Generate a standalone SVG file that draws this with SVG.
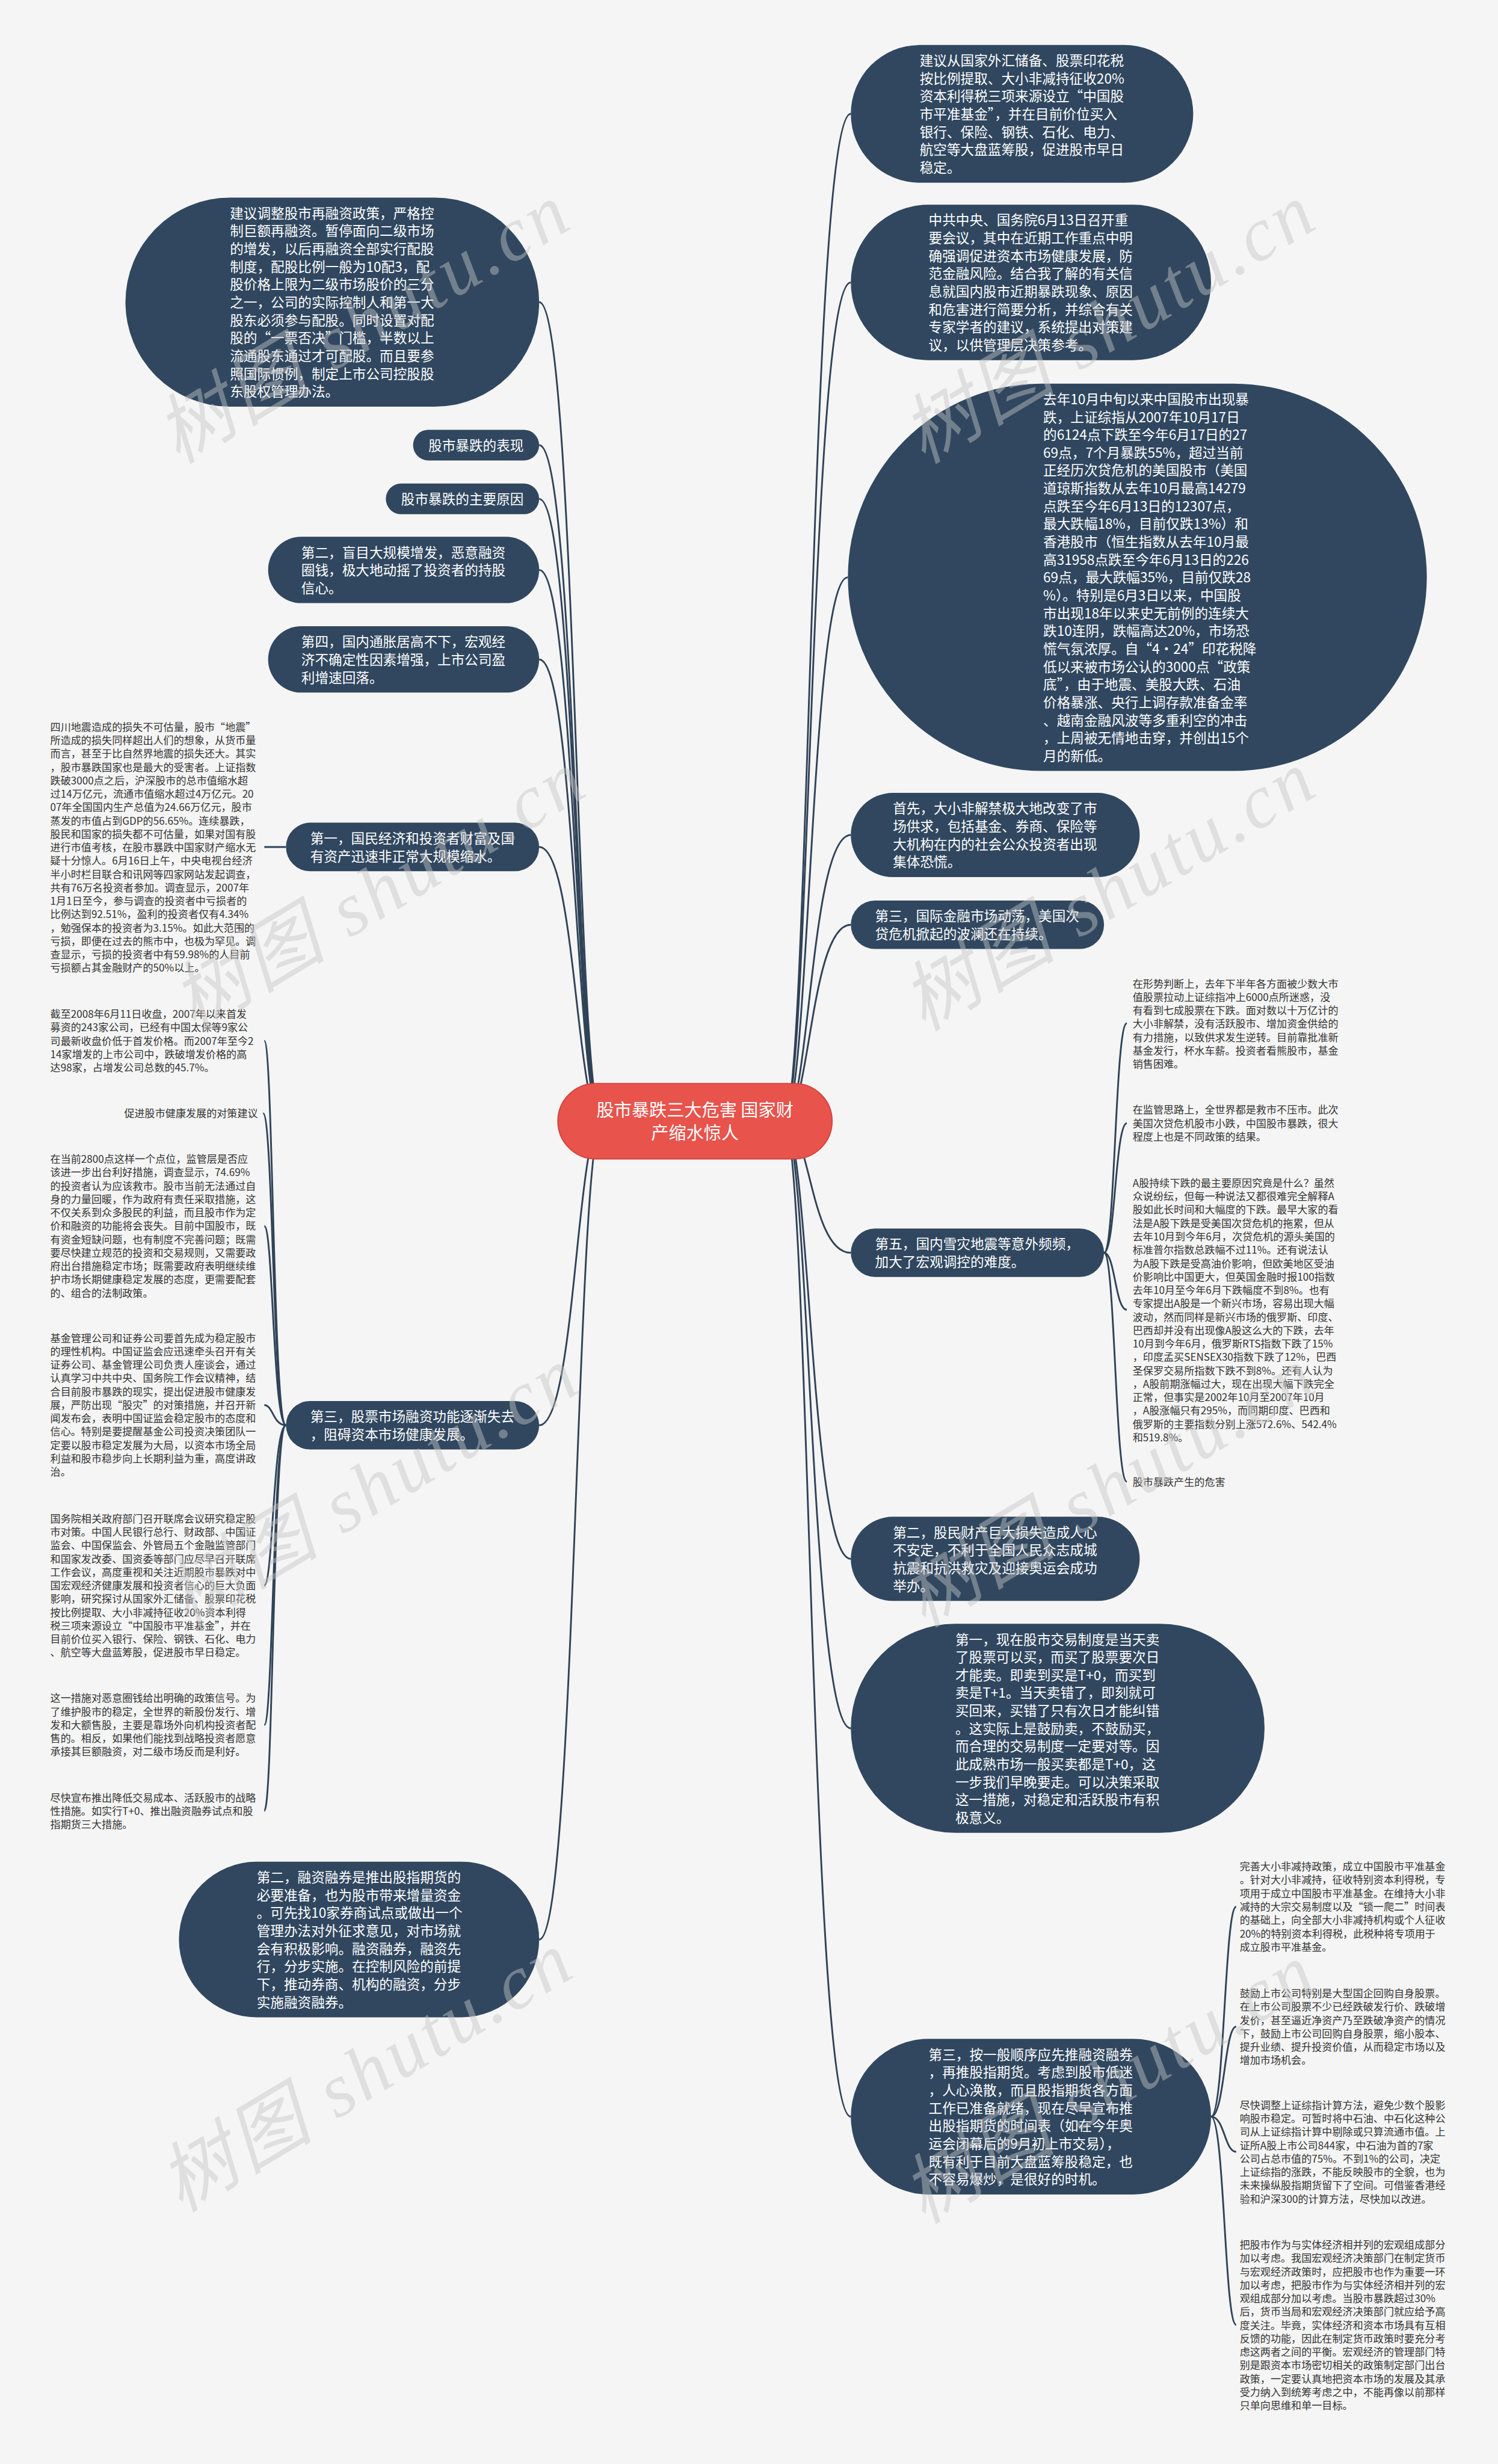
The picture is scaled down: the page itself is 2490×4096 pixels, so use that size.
<svg xmlns="http://www.w3.org/2000/svg" width="2490" height="4096" viewBox="0 0 2490 4096">
<style>
.bg{fill:#f5f5f5}
.nd{fill:#30475f}
.ctr{fill:#e8534c;stroke:#d4443e;stroke-width:2}
.nt{fill:#ffffff;font-family:"Noto Sans CJK SC","Noto Sans",sans-serif;font-size:23.3px}
.ct{fill:#ffffff;font-family:"Noto Sans CJK SC","Noto Sans",sans-serif;font-size:30px;text-anchor:middle}
.bt{fill:#333333;font-family:"Noto Sans CJK SC","Noto Sans",sans-serif;font-size:17.6px}
.cn path{fill:none;stroke:#2f4358;stroke-width:3}
.wm{fill:#c6c6c6;fill-opacity:0.45;font-family:"Liberation Serif","Noto Sans CJK SC",serif;font-style:italic;font-size:130px;letter-spacing:6px;text-anchor:middle}
</style>
<rect class="bg" x="0" y="0" width="2490" height="4096"/>
<g transform="scale(0.972)">
<g id="connectors" class="cn">
<path d="M1340,1917.5 C1385,1917.5 1385,194.75 1455,194.75"/>
<path d="M1340,1917.5 C1385,1917.5 1385,483 1455,483"/>
<path d="M1340,1917.5 C1385,1917.5 1385,987.25 1450,987.25"/>
<path d="M1340,1917.5 C1385,1917.5 1385,1428 1455,1428"/>
<path d="M1340,1917.5 C1385,1917.5 1385,1581.5 1455,1581.5"/>
<path d="M1340,1917.5 C1385,1917.5 1385,2142.5 1455,2142.5"/>
<path d="M1340,1917.5 C1385,1917.5 1385,2666 1455,2666"/>
<path d="M1340,1917.5 C1385,1917.5 1385,2955.75 1455,2955.75"/>
<path d="M1340,1917.5 C1385,1917.5 1385,3620 1455,3620"/>
<path d="M1030,1917.5 C985,1917.5 985,516.75 922,516.75"/>
<path d="M1030,1917.5 C985,1917.5 985,761.25 922,761.25"/>
<path d="M1030,1917.5 C985,1917.5 985,853.25 922,853.25"/>
<path d="M1030,1917.5 C985,1917.5 985,974.75 922,974.75"/>
<path d="M1030,1917.5 C985,1917.5 985,1127.75 922,1127.75"/>
<path d="M1030,1917.5 C985,1917.5 985,1448.5 922,1448.5"/>
<path d="M1030,1917.5 C985,1917.5 985,2437.5 922,2437.5"/>
<path d="M1030,1917.5 C985,1917.5 985,3317 922,3317"/>
<path d="M489,1448.5 L452,1448.5"/>
<path d="M489,2437.5 C467,2437.5 467,1780 452,1780"/>
<path d="M489,2437.5 C467,2437.5 467,1904 450,1904"/>
<path d="M489,2437.5 C467,2437.5 467,2097 452,2097"/>
<path d="M489,2437.5 C467,2437.5 467,2403 452,2403"/>
<path d="M489,2437.5 C467,2437.5 467,2711.5 452,2711.5"/>
<path d="M489,2437.5 C467,2437.5 467,2950 452,2950"/>
<path d="M489,2437.5 C467,2437.5 467,3097 452,3097"/>
<path d="M1888,2142.5 C1907,2142.5 1907,1750 1927,1750"/>
<path d="M1888,2142.5 C1907,2142.5 1907,1921 1927,1921"/>
<path d="M1888,2142.5 C1907,2142.5 1907,2240 1927,2240"/>
<path d="M1888,2142.5 C1907,2142.5 1907,2534 1927,2534"/>
<path d="M2071,3620 C2094,3620 2094,3261 2114,3261"/>
<path d="M2071,3620 C2094,3620 2094,3466 2114,3466"/>
<path d="M2071,3620 C2094,3620 2094,3680 2114,3680"/>
<path d="M2071,3620 C2094,3620 2094,3976 2114,3976"/>
</g>

<g id="center">
<rect class="ctr" x="954" y="1853" width="469" height="129" rx="64.5"/>
<text class="ct" x="1188.5" y="1909"><tspan x="1188.5">股市暴跌三大危害 国家财</tspan><tspan x="1188.5" dy="40">产缩水惊人</tspan></text>
</g>

<g id="r1">
<rect class="nd" x="1455" y="77" width="585.5" height="235.5" rx="117.75"/>
<text class="nt" y="112.25"><tspan x="1572.75">建议从国家外汇储备、股票印花税</tspan><tspan x="1572.75" dy="30.5">按比例提取、大小非减持征收20%</tspan><tspan x="1572.75" dy="30.5">资本利得税三项来源设立“中国股</tspan><tspan x="1572.75" dy="30.5">市平准基金”，并在目前价位买入</tspan><tspan x="1572.75" dy="30.5">银行、保险、钢铁、石化、电力、</tspan><tspan x="1572.75" dy="30.5">航空等大盘蓝筹股，促进股市早日</tspan><tspan x="1572.75" dy="30.5">稳定。</tspan></text>
</g>

<g id="r2">
<rect class="nd" x="1455" y="350" width="616" height="266" rx="133"/>
<text class="nt" y="385.25"><tspan x="1588">中共中央、国务院6月13日召开重</tspan><tspan x="1588" dy="30.5">要会议，其中在近期工作重点中明</tspan><tspan x="1588" dy="30.5">确强调促进资本市场健康发展，防</tspan><tspan x="1588" dy="30.5">范金融风险。结合我了解的有关信</tspan><tspan x="1588" dy="30.5">息就国内股市近期暴跌现象、原因</tspan><tspan x="1588" dy="30.5">和危害进行简要分析，并综合有关</tspan><tspan x="1588" dy="30.5">专家学者的建议，系统提出对策建</tspan><tspan x="1588" dy="30.5">议，以供管理层决策参考。</tspan></text>
</g>

<g id="r3">
<rect class="nd" x="1450" y="656" width="990" height="662.5" rx="331.25"/>
<text class="nt" y="691.25"><tspan x="1784">去年10月中旬以来中国股市出现暴</tspan><tspan x="1784" dy="30.5">跌，上证综指从2007年10月17日</tspan><tspan x="1784" dy="30.5">的6124点下跌至今年6月17日的27</tspan><tspan x="1784" dy="30.5">69点，7个月暴跌55%，超过当前</tspan><tspan x="1784" dy="30.5">正经历次贷危机的美国股市（美国</tspan><tspan x="1784" dy="30.5">道琼斯指数从去年10月最高14279</tspan><tspan x="1784" dy="30.5">点跌至今年6月13日的12307点，</tspan><tspan x="1784" dy="30.5">最大跌幅18%，目前仅跌13%）和</tspan><tspan x="1784" dy="30.5">香港股市（恒生指数从去年10月最</tspan><tspan x="1784" dy="30.5">高31958点跌至今年6月13日的226</tspan><tspan x="1784" dy="30.5">69点，最大跌幅35%，目前仅跌28</tspan><tspan x="1784" dy="30.5">%）。特别是6月3日以来，中国股</tspan><tspan x="1784" dy="30.5">市出现18年以来史无前例的连续大</tspan><tspan x="1784" dy="30.5">跌10连阴，跌幅高达20%，市场恐</tspan><tspan x="1784" dy="30.5">慌气氛浓厚。自“4·24”印花税降</tspan><tspan x="1784" dy="30.5">低以来被市场公认的3000点“政策</tspan><tspan x="1784" dy="30.5">底”，由于地震、美股大跌、石油</tspan><tspan x="1784" dy="30.5">价格暴涨、央行上调存款准备金率</tspan><tspan x="1784" dy="30.5">、越南金融风波等多重利空的冲击</tspan><tspan x="1784" dy="30.5">，上周被无情地击穿，并创出15个</tspan><tspan x="1784" dy="30.5">月的新低。</tspan></text>
</g>

<g id="r4">
<rect class="nd" x="1455" y="1356" width="494" height="144" rx="72"/>
<text class="nt" y="1391.25"><tspan x="1527">首先，大小非解禁极大地改变了市</tspan><tspan x="1527" dy="30.5">场供求，包括基金、券商、保险等</tspan><tspan x="1527" dy="30.5">大机构在内的社会公众投资者出现</tspan><tspan x="1527" dy="30.5">集体恐慌。</tspan></text>
</g>

<g id="r5">
<rect class="nd" x="1455" y="1540" width="433" height="83" rx="41.5"/>
<text class="nt" y="1575.25"><tspan x="1496.5">第三，国际金融市场动荡，美国次</tspan><tspan x="1496.5" dy="30.5">贷危机掀起的波澜还在持续。</tspan></text>
</g>

<g id="r6">
<rect class="nd" x="1455" y="2101" width="433" height="83" rx="41.5"/>
<text class="nt" y="2136.25"><tspan x="1496.5">第五，国内雪灾地震等意外频频，</tspan><tspan x="1496.5" dy="30.5">加大了宏观调控的难度。</tspan></text>
</g>

<g id="r7">
<rect class="nd" x="1455" y="2594" width="494" height="144" rx="72"/>
<text class="nt" y="2629.25"><tspan x="1527">第二，股民财产巨大损失造成人心</tspan><tspan x="1527" dy="30.5">不安定，不利于全国人民众志成城</tspan><tspan x="1527" dy="30.5">抗震和抗洪救灾及迎接奥运会成功</tspan><tspan x="1527" dy="30.5">举办。</tspan></text>
</g>

<g id="r8">
<rect class="nd" x="1455" y="2777" width="707.5" height="357.5" rx="178.75"/>
<text class="nt" y="2812.25"><tspan x="1633.75">第一，现在股市交易制度是当天卖</tspan><tspan x="1633.75" dy="30.5">了股票可以买，而买了股票要次日</tspan><tspan x="1633.75" dy="30.5">才能卖。即卖到买是T+0，而买到</tspan><tspan x="1633.75" dy="30.5">卖是T+1。当天卖错了，即刻就可</tspan><tspan x="1633.75" dy="30.5">买回来，买错了只有次日才能纠错</tspan><tspan x="1633.75" dy="30.5">。这实际上是鼓励卖，不鼓励买，</tspan><tspan x="1633.75" dy="30.5">而合理的交易制度一定要对等。因</tspan><tspan x="1633.75" dy="30.5">此成熟市场一般买卖都是T+0，这</tspan><tspan x="1633.75" dy="30.5">一步我们早晚要走。可以决策采取</tspan><tspan x="1633.75" dy="30.5">这一措施，对稳定和活跃股市有积</tspan><tspan x="1633.75" dy="30.5">极意义。</tspan></text>
</g>

<g id="r9">
<rect class="nd" x="1455" y="3487" width="616" height="266" rx="133"/>
<text class="nt" y="3522.25"><tspan x="1588">第三，按一般顺序应先推融资融券</tspan><tspan x="1588" dy="30.5">，再推股指期货。考虑到股市低迷</tspan><tspan x="1588" dy="30.5">，人心涣散，而且股指期货各方面</tspan><tspan x="1588" dy="30.5">工作已准备就绪，现在尽早宣布推</tspan><tspan x="1588" dy="30.5">出股指期货的时间表（如在今年奥</tspan><tspan x="1588" dy="30.5">运会闭幕后的9月初上市交易），</tspan><tspan x="1588" dy="30.5">既有利于目前大盘蓝筹股稳定，也</tspan><tspan x="1588" dy="30.5">不容易爆炒，是很好的时机。</tspan></text>
</g>

<g id="l0">
<rect class="nd" x="214.5" y="338" width="707.5" height="357.5" rx="178.75"/>
<text class="nt" y="373.25"><tspan x="393.25">建议调整股市再融资政策，严格控</tspan><tspan x="393.25" dy="30.5">制巨额再融资。暂停面向二级市场</tspan><tspan x="393.25" dy="30.5">的增发，以后再融资全部实行配股</tspan><tspan x="393.25" dy="30.5">制度，配股比例一般为10配3，配</tspan><tspan x="393.25" dy="30.5">股价格上限为二级市场股价的三分</tspan><tspan x="393.25" dy="30.5">之一，公司的实际控制人和第一大</tspan><tspan x="393.25" dy="30.5">股东必须参与配股。同时设置对配</tspan><tspan x="393.25" dy="30.5">股的“一票否决”门槛，半数以上</tspan><tspan x="393.25" dy="30.5">流通股东通过才可配股。而且要参</tspan><tspan x="393.25" dy="30.5">照国际惯例，制定上市公司控股股</tspan><tspan x="393.25" dy="30.5">东股权管理办法。</tspan></text>
</g>

<g id="la">
<rect class="nd" x="706.4" y="735" width="215.6" height="52.5" rx="26.25"/>
<text class="nt" x="732.65" y="770.25">股市暴跌的表现</text>
</g>

<g id="lb">
<rect class="nd" x="659.8" y="827" width="262.2" height="52.5" rx="26.25"/>
<text class="nt" x="686.05" y="862.25">股市暴跌的主要原因</text>
</g>

<g id="lc">
<rect class="nd" x="458.5" y="918" width="463.5" height="113.5" rx="56.75"/>
<text class="nt" y="953.25"><tspan x="515.25">第二，盲目大规模增发，恶意融资</tspan><tspan x="515.25" dy="30.5">圈钱，极大地动摇了投资者的持股</tspan><tspan x="515.25" dy="30.5">信心。</tspan></text>
</g>

<g id="ld">
<rect class="nd" x="458.5" y="1071" width="463.5" height="113.5" rx="56.75"/>
<text class="nt" y="1106.25"><tspan x="515.25">第四，国内通胀居高不下，宏观经</tspan><tspan x="515.25" dy="30.5">济不确定性因素增强，上市公司盈</tspan><tspan x="515.25" dy="30.5">利增速回落。</tspan></text>
</g>

<g id="l1">
<rect class="nd" x="489" y="1407" width="433" height="83" rx="41.5"/>
<text class="nt" y="1442.25"><tspan x="530.5">第一，国民经济和投资者财富及国</tspan><tspan x="530.5" dy="30.5">有资产迅速非正常大规模缩水。</tspan></text>
</g>

<g id="l3">
<rect class="nd" x="489" y="2396" width="433" height="83" rx="41.5"/>
<text class="nt" y="2431.25"><tspan x="530.5">第三，股票市场融资功能逐渐失去</tspan><tspan x="530.5" dy="30.5">，阻碍资本市场健康发展。</tspan></text>
</g>

<g id="l2">
<rect class="nd" x="306" y="3184" width="616" height="266" rx="133"/>
<text class="nt" y="3219.25"><tspan x="439">第二，融资融券是推出股指期货的</tspan><tspan x="439" dy="30.5">必要准备，也为股市带来增量资金</tspan><tspan x="439" dy="30.5">。可先找10家券商试点或做出一个</tspan><tspan x="439" dy="30.5">管理办法对外征求意见，对市场就</tspan><tspan x="439" dy="30.5">会有积极影响。融资融券，融资先</tspan><tspan x="439" dy="30.5">行，分步实施。在控制风险的前提</tspan><tspan x="439" dy="30.5">下，推动券商、机构的融资，分步</tspan><tspan x="439" dy="30.5">实施融资融券。</tspan></text>
</g>

<g id="b1">
<text class="bt" y="1249.8"><tspan x="86">四川地震造成的损失不可估量，股市“地震”</tspan><tspan x="86" dy="22.9">所造成的损失同样超出人们的想象，从货币量</tspan><tspan x="86" dy="22.9">而言，甚至于比自然界地震的损失还大。其实</tspan><tspan x="86" dy="22.9">，股市暴跌国家也是最大的受害者。上证指数</tspan><tspan x="86" dy="22.9">跌破3000点之后，沪深股市的总市值缩水超</tspan><tspan x="86" dy="22.9">过14万亿元，流通市值缩水超过4万亿元。20</tspan><tspan x="86" dy="22.9">07年全国国内生产总值为24.66万亿元，股市</tspan><tspan x="86" dy="22.9">蒸发的市值占到GDP的56.65%。连续暴跌，</tspan><tspan x="86" dy="22.9">股民和国家的损失都不可估量，如果对国有股</tspan><tspan x="86" dy="22.9">进行市值考核，在股市暴跌中国家财产缩水无</tspan><tspan x="86" dy="22.9">疑十分惊人。6月16日上午，中央电视台经济</tspan><tspan x="86" dy="22.9">半小时栏目联合和讯网等四家网站发起调查，</tspan><tspan x="86" dy="22.9">共有76万名投资者参加。调查显示，2007年</tspan><tspan x="86" dy="22.9">1月1日至今，参与调查的投资者中亏损者的</tspan><tspan x="86" dy="22.9">比例达到92.51%，盈利的投资者仅有4.34%</tspan><tspan x="86" dy="22.9">，勉强保本的投资者为3.15%。如此大范围的</tspan><tspan x="86" dy="22.9">亏损，即便在过去的熊市中，也极为罕见。调</tspan><tspan x="86" dy="22.9">查显示，亏损的投资者中有59.98%的人目前</tspan><tspan x="86" dy="22.9">亏损额占其金融财产的50%以上。</tspan></text>
</g>

<g id="b2a">
<text class="bt" y="1740.8"><tspan x="86">截至2008年6月11日收盘，2007年以来首发</tspan><tspan x="86" dy="22.9">募资的243家公司，已经有中国太保等9家公</tspan><tspan x="86" dy="22.9">司最新收盘价低于首发价格。而2007年至今2</tspan><tspan x="86" dy="22.9">14家增发的上市公司中，跌破增发价格的高</tspan><tspan x="86" dy="22.9">达98家，占增发公司总数的45.7%。</tspan></text>
</g>

<g id="b2l">
<text class="bt" x="441" y="1910.8" text-anchor="end">促进股市健康发展的对策建议</text>
</g>

<g id="b2b">
<text class="bt" y="1988.8"><tspan x="86">在当前2800点这样一个点位，监管层是否应</tspan><tspan x="86" dy="22.9">该进一步出台利好措施，调查显示，74.69%</tspan><tspan x="86" dy="22.9">的投资者认为应该救市。股市当前无法通过自</tspan><tspan x="86" dy="22.9">身的力量回暖，作为政府有责任采取措施，这</tspan><tspan x="86" dy="22.9">不仅关系到众多股民的利益，而且股市作为定</tspan><tspan x="86" dy="22.9">价和融资的功能将会丧失。目前中国股市，既</tspan><tspan x="86" dy="22.9">有资金短缺问题，也有制度不完善问题；既需</tspan><tspan x="86" dy="22.9">要尽快建立规范的投资和交易规则，又需要政</tspan><tspan x="86" dy="22.9">府出台措施稳定市场；既需要政府表明继续维</tspan><tspan x="86" dy="22.9">护市场长期健康稳定发展的态度，更需要配套</tspan><tspan x="86" dy="22.9">的、组合的法制政策。</tspan></text>
</g>

<g id="b3a">
<text class="bt" y="2294.8"><tspan x="86">基金管理公司和证券公司要首先成为稳定股市</tspan><tspan x="86" dy="22.9">的理性机构。中国证监会应迅速牵头召开有关</tspan><tspan x="86" dy="22.9">证券公司、基金管理公司负责人座谈会，通过</tspan><tspan x="86" dy="22.9">认真学习中共中央、国务院工作会议精神，结</tspan><tspan x="86" dy="22.9">合目前股市暴跌的现实，提出促进股市健康发</tspan><tspan x="86" dy="22.9">展，严防出现“股灾”的对策措施，并召开新</tspan><tspan x="86" dy="22.9">闻发布会，表明中国证监会稳定股市的态度和</tspan><tspan x="86" dy="22.9">信心。特别是要提醒基金公司投资决策团队一</tspan><tspan x="86" dy="22.9">定要以股市稳定发展为大局，以资本市场全局</tspan><tspan x="86" dy="22.9">利益和股市稳步向上长期利益为重，高度讲政</tspan><tspan x="86" dy="22.9">治。</tspan></text>
</g>

<g id="b3b">
<text class="bt" y="2603.8"><tspan x="86">国务院相关政府部门召开联席会议研究稳定股</tspan><tspan x="86" dy="22.9">市对策。中国人民银行总行、财政部、中国证</tspan><tspan x="86" dy="22.9">监会、中国保监会、外管局五个金融监管部门</tspan><tspan x="86" dy="22.9">和国家发改委、国资委等部门应尽早召开联席</tspan><tspan x="86" dy="22.9">工作会议，高度重视和关注近期股市暴跌对中</tspan><tspan x="86" dy="22.9">国宏观经济健康发展和投资者信心的巨大负面</tspan><tspan x="86" dy="22.9">影响，研究探讨从国家外汇储备、股票印花税</tspan><tspan x="86" dy="22.9">按比例提取、大小非减持征收20%资本利得</tspan><tspan x="86" dy="22.9">税三项来源设立“中国股市平准基金”，并在</tspan><tspan x="86" dy="22.9">目前价位买入银行、保险、钢铁、石化、电力</tspan><tspan x="86" dy="22.9">、航空等大盘蓝筹股，促进股市早日稳定。</tspan></text>
</g>

<g id="b3c">
<text class="bt" y="2910.8"><tspan x="86">这一措施对恶意圈钱给出明确的政策信号。为</tspan><tspan x="86" dy="22.9">了维护股市的稳定，全世界的新股份发行、增</tspan><tspan x="86" dy="22.9">发和大额售股，主要是靠场外向机构投资者配</tspan><tspan x="86" dy="22.9">售的。相反，如果他们能找到战略投资者愿意</tspan><tspan x="86" dy="22.9">承接其巨额融资，对二级市场反而是利好。</tspan></text>
</g>

<g id="b3d">
<text class="bt" y="3080.8"><tspan x="86">尽快宣布推出降低交易成本、活跃股市的战略</tspan><tspan x="86" dy="22.9">性措施。如实行T+0、推出融资融券试点和股</tspan><tspan x="86" dy="22.9">指期货三大措施。</tspan></text>
</g>

<g id="r6a">
<text class="bt" y="1688.8"><tspan x="1937">在形势判断上，去年下半年各方面被少数大市</tspan><tspan x="1937" dy="22.9">值股票拉动上证综指冲上6000点所迷惑，没</tspan><tspan x="1937" dy="22.9">有看到七成股票在下跌。面对数以十万亿计的</tspan><tspan x="1937" dy="22.9">大小非解禁，没有活跃股市、增加资金供给的</tspan><tspan x="1937" dy="22.9">有力措施，以致供求发生逆转。目前靠批准新</tspan><tspan x="1937" dy="22.9">基金发行，杯水车薪。投资者看熊股市，基金</tspan><tspan x="1937" dy="22.9">销售困难。</tspan></text>
</g>

<g id="r6b">
<text class="bt" y="1904.8"><tspan x="1937">在监管思路上，全世界都是救市不压市。此次</tspan><tspan x="1937" dy="22.9">美国次贷危机股市小跌，中国股市暴跌，很大</tspan><tspan x="1937" dy="22.9">程度上也是不同政策的结果。</tspan></text>
</g>

<g id="r6c">
<text class="bt" y="2029.8"><tspan x="1937">A股持续下跌的最主要原因究竟是什么？虽然</tspan><tspan x="1937" dy="22.9">众说纷纭，但每一种说法又都很难完全解释A</tspan><tspan x="1937" dy="22.9">股如此长时间和大幅度的下跌。最早大家的看</tspan><tspan x="1937" dy="22.9">法是A股下跌是受美国次贷危机的拖累，但从</tspan><tspan x="1937" dy="22.9">去年10月到今年6月，次贷危机的源头美国的</tspan><tspan x="1937" dy="22.9">标准普尔指数总跌幅不过11%。还有说法认</tspan><tspan x="1937" dy="22.9">为A股下跌是受高油价影响，但欧美地区受油</tspan><tspan x="1937" dy="22.9">价影响比中国更大，但英国金融时报100指数</tspan><tspan x="1937" dy="22.9">去年10月至今年6月下跌幅度不到8%。也有</tspan><tspan x="1937" dy="22.9">专家提出A股是一个新兴市场，容易出现大幅</tspan><tspan x="1937" dy="22.9">波动，然而同样是新兴市场的俄罗斯、印度、</tspan><tspan x="1937" dy="22.9">巴西却并没有出现像A股这么大的下跌，去年</tspan><tspan x="1937" dy="22.9">10月到今年6月，俄罗斯RTS指数下跌了15%</tspan><tspan x="1937" dy="22.9">，印度孟买SENSEX30指数下跌了12%，巴西</tspan><tspan x="1937" dy="22.9">圣保罗交易所指数下跌不到8%。还有人认为</tspan><tspan x="1937" dy="22.9">，A股前期涨幅过大，现在出现大幅下跌完全</tspan><tspan x="1937" dy="22.9">正常，但事实是2002年10月至2007年10月</tspan><tspan x="1937" dy="22.9">，A股涨幅只有295%，而同期印度、巴西和</tspan><tspan x="1937" dy="22.9">俄罗斯的主要指数分别上涨572.6%、542.4%</tspan><tspan x="1937" dy="22.9">和519.8%。</tspan></text>
</g>

<g id="r6d">
<text class="bt" x="1937" y="2540.8">股市暴跌产生的危害</text>
</g>

<g id="r9a">
<text class="bt" y="3198.8"><tspan x="2120">完善大小非减持政策，成立中国股市平准基金</tspan><tspan x="2120" dy="22.9">。针对大小非减持，征收特别资本利得税，专</tspan><tspan x="2120" dy="22.9">项用于成立中国股市平准基金。在维持大小非</tspan><tspan x="2120" dy="22.9">减持的大宗交易制度以及“锁一爬二”时间表</tspan><tspan x="2120" dy="22.9">的基础上，向全部大小非减持机构或个人征收</tspan><tspan x="2120" dy="22.9">20%的特别资本利得税，此税种将专项用于</tspan><tspan x="2120" dy="22.9">成立股市平准基金。</tspan></text>
</g>

<g id="r9b">
<text class="bt" y="3415.8"><tspan x="2120">鼓励上市公司特别是大型国企回购自身股票。</tspan><tspan x="2120" dy="22.9">在上市公司股票不少已经跌破发行价、跌破增</tspan><tspan x="2120" dy="22.9">发价，甚至逼近净资产乃至跌破净资产的情况</tspan><tspan x="2120" dy="22.9">下，鼓励上市公司回购自身股票，缩小股本、</tspan><tspan x="2120" dy="22.9">提升业绩、提升投资价值，从而稳定市场以及</tspan><tspan x="2120" dy="22.9">增加市场机会。</tspan></text>
</g>

<g id="r9c">
<text class="bt" y="3606.8"><tspan x="2120">尽快调整上证综指计算方法，避免少数个股影</tspan><tspan x="2120" dy="22.9">响股市稳定。可暂时将中石油、中石化这种公</tspan><tspan x="2120" dy="22.9">司从上证综指计算中剔除或只算流通市值。上</tspan><tspan x="2120" dy="22.9">证所A股上市公司844家，中石油为首的7家</tspan><tspan x="2120" dy="22.9">公司占总市值的75%。不到1%的公司，决定</tspan><tspan x="2120" dy="22.9">上证综指的涨跌，不能反映股市的全貌，也为</tspan><tspan x="2120" dy="22.9">未来操纵股指期货留下了空间。可借鉴香港经</tspan><tspan x="2120" dy="22.9">验和沪深300的计算方法，尽快加以改进。</tspan></text>
</g>

<g id="r9d">
<text class="bt" y="3845.8"><tspan x="2120">把股市作为与实体经济相并列的宏观组成部分</tspan><tspan x="2120" dy="22.9">加以考虑。我国宏观经济决策部门在制定货币</tspan><tspan x="2120" dy="22.9">与宏观经济政策时，应把股市也作为重要一环</tspan><tspan x="2120" dy="22.9">加以考虑，把股市作为与实体经济相并列的宏</tspan><tspan x="2120" dy="22.9">观组成部分加以考虑。当股市暴跌超过30%</tspan><tspan x="2120" dy="22.9">后，货币当局和宏观经济决策部门就应给予高</tspan><tspan x="2120" dy="22.9">度关注。毕竟，实体经济和资本市场具有互相</tspan><tspan x="2120" dy="22.9">反馈的功能，因此在制定货币政策时要充分考</tspan><tspan x="2120" dy="22.9">虑这两者之间的平衡。宏观经济的管理部门特</tspan><tspan x="2120" dy="22.9">别是跟资本市场密切相关的政策制定部门出台</tspan><tspan x="2120" dy="22.9">政策，一定要认真地把资本市场的发展及其承</tspan><tspan x="2120" dy="22.9">受力纳入到统筹考虑之中，不能再像以前那样</tspan><tspan x="2120" dy="22.9">只单向思维和单一目标。</tspan></text>
</g>

<g id="watermarks" class="wm">
<text transform="translate(645,590) rotate(-31)">树图 shutu.cn</text>
<text transform="translate(1920,590) rotate(-31)">树图 shutu.cn</text>
<text transform="translate(672,1560) rotate(-31)">树图 shutu.cn</text>
<text transform="translate(1920,1560) rotate(-31)">树图 shutu.cn</text>
<text transform="translate(660,2580) rotate(-31)">树图 shutu.cn</text>
<text transform="translate(1920,2580) rotate(-31)">树图 shutu.cn</text>
<text transform="translate(650,3580) rotate(-31)">树图 shutu.cn</text>
<text transform="translate(1920,3600) rotate(-31)">树图 shutu.cn</text>
</g>
</g>
</svg>
